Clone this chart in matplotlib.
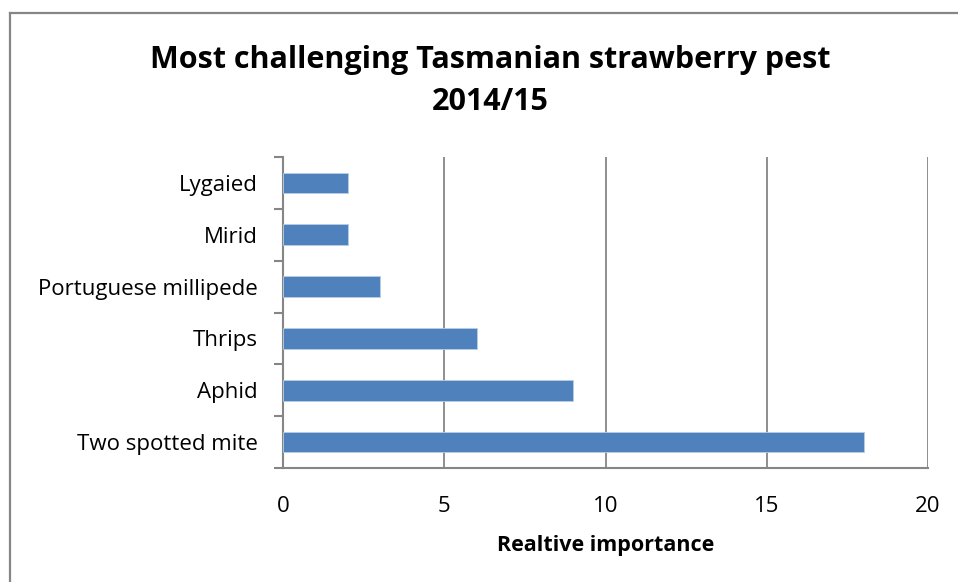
import matplotlib
matplotlib.use("Agg")
import matplotlib.pyplot as plt
from matplotlib.lines import Line2D

categories = ["Two spotted mite", "Aphid", "Thrips", "Portuguese millipede", "Mirid", "Lygaied"]
values = [18, 9, 6, 3, 2, 2]
xticks = [0, 5, 10, 15, 20]
title = "Most challenging Tasmanian strawberry pest\n2014/15"
xlabel = "Realtive importance"

plt.rcParams['font.family'] = ['Open Sans', 'DejaVu Sans']

W, H = 958, 582
fig = plt.figure(figsize=(W / 100, H / 100), dpi=100)
ax = fig.add_axes([283 / W, 1 - 468 / H, (928 - 283) / W, (468 - 157) / H])

ypos = list(range(len(categories)))
ax.barh(ypos, values, height=0.4, color="#4F81BD", edgecolor="#B9CDE5", linewidth=0.6, zorder=3)
ax.set_xlim(0, 20)
ax.set_ylim(-0.5, len(categories) - 0.5)

ax.set_xticks(xticks)
ax.set_xticklabels([str(t) for t in xticks], fontsize=16)
ax.set_yticks(ypos)
ax.set_yticklabels(categories, fontsize=16)
ax.tick_params(axis='y', length=0, pad=18)
ax.tick_params(axis='x', length=0, pad=20)

# minor ticks at category boundaries
ax.set_yticks([i - 0.5 for i in range(len(categories) + 1)], minor=True)
ax.tick_params(axis='y', which='minor', length=6.5, width=1.5, color="#868686")
ax.set_xticks(xticks, minor=True)
ax.tick_params(axis='x', which='minor', length=6, width=1.5, color="#868686", direction='out')

ax.grid(axis='x', color="#868686", linewidth=1.3, zorder=0)
for s in ['top', 'right']:
    ax.spines[s].set_visible(False)
for s in ['left', 'bottom']:
    ax.spines[s].set_color("#868686")
    ax.spines[s].set_linewidth(1.5)

ax.set_xlabel(xlabel, fontsize=15.5, fontweight='bold', labelpad=13)

fig.text(490 / W, 1 - 81 / H, title, ha='center', va='center', fontsize=22,
         fontweight='bold', linespacing=1.55)

# outer chart border (left and top)
fig.add_artist(Line2D([9.5 / W, 9.5 / W], [0, 1 - 12.5 / H], transform=fig.transFigure,
                      color="#868686", linewidth=1.6))
fig.add_artist(Line2D([9.5 / W, 1], [1 - 12.5 / H, 1 - 12.5 / H], transform=fig.transFigure,
                      color="#868686", linewidth=1.6))

fig.savefig("out.png", dpi=100)
